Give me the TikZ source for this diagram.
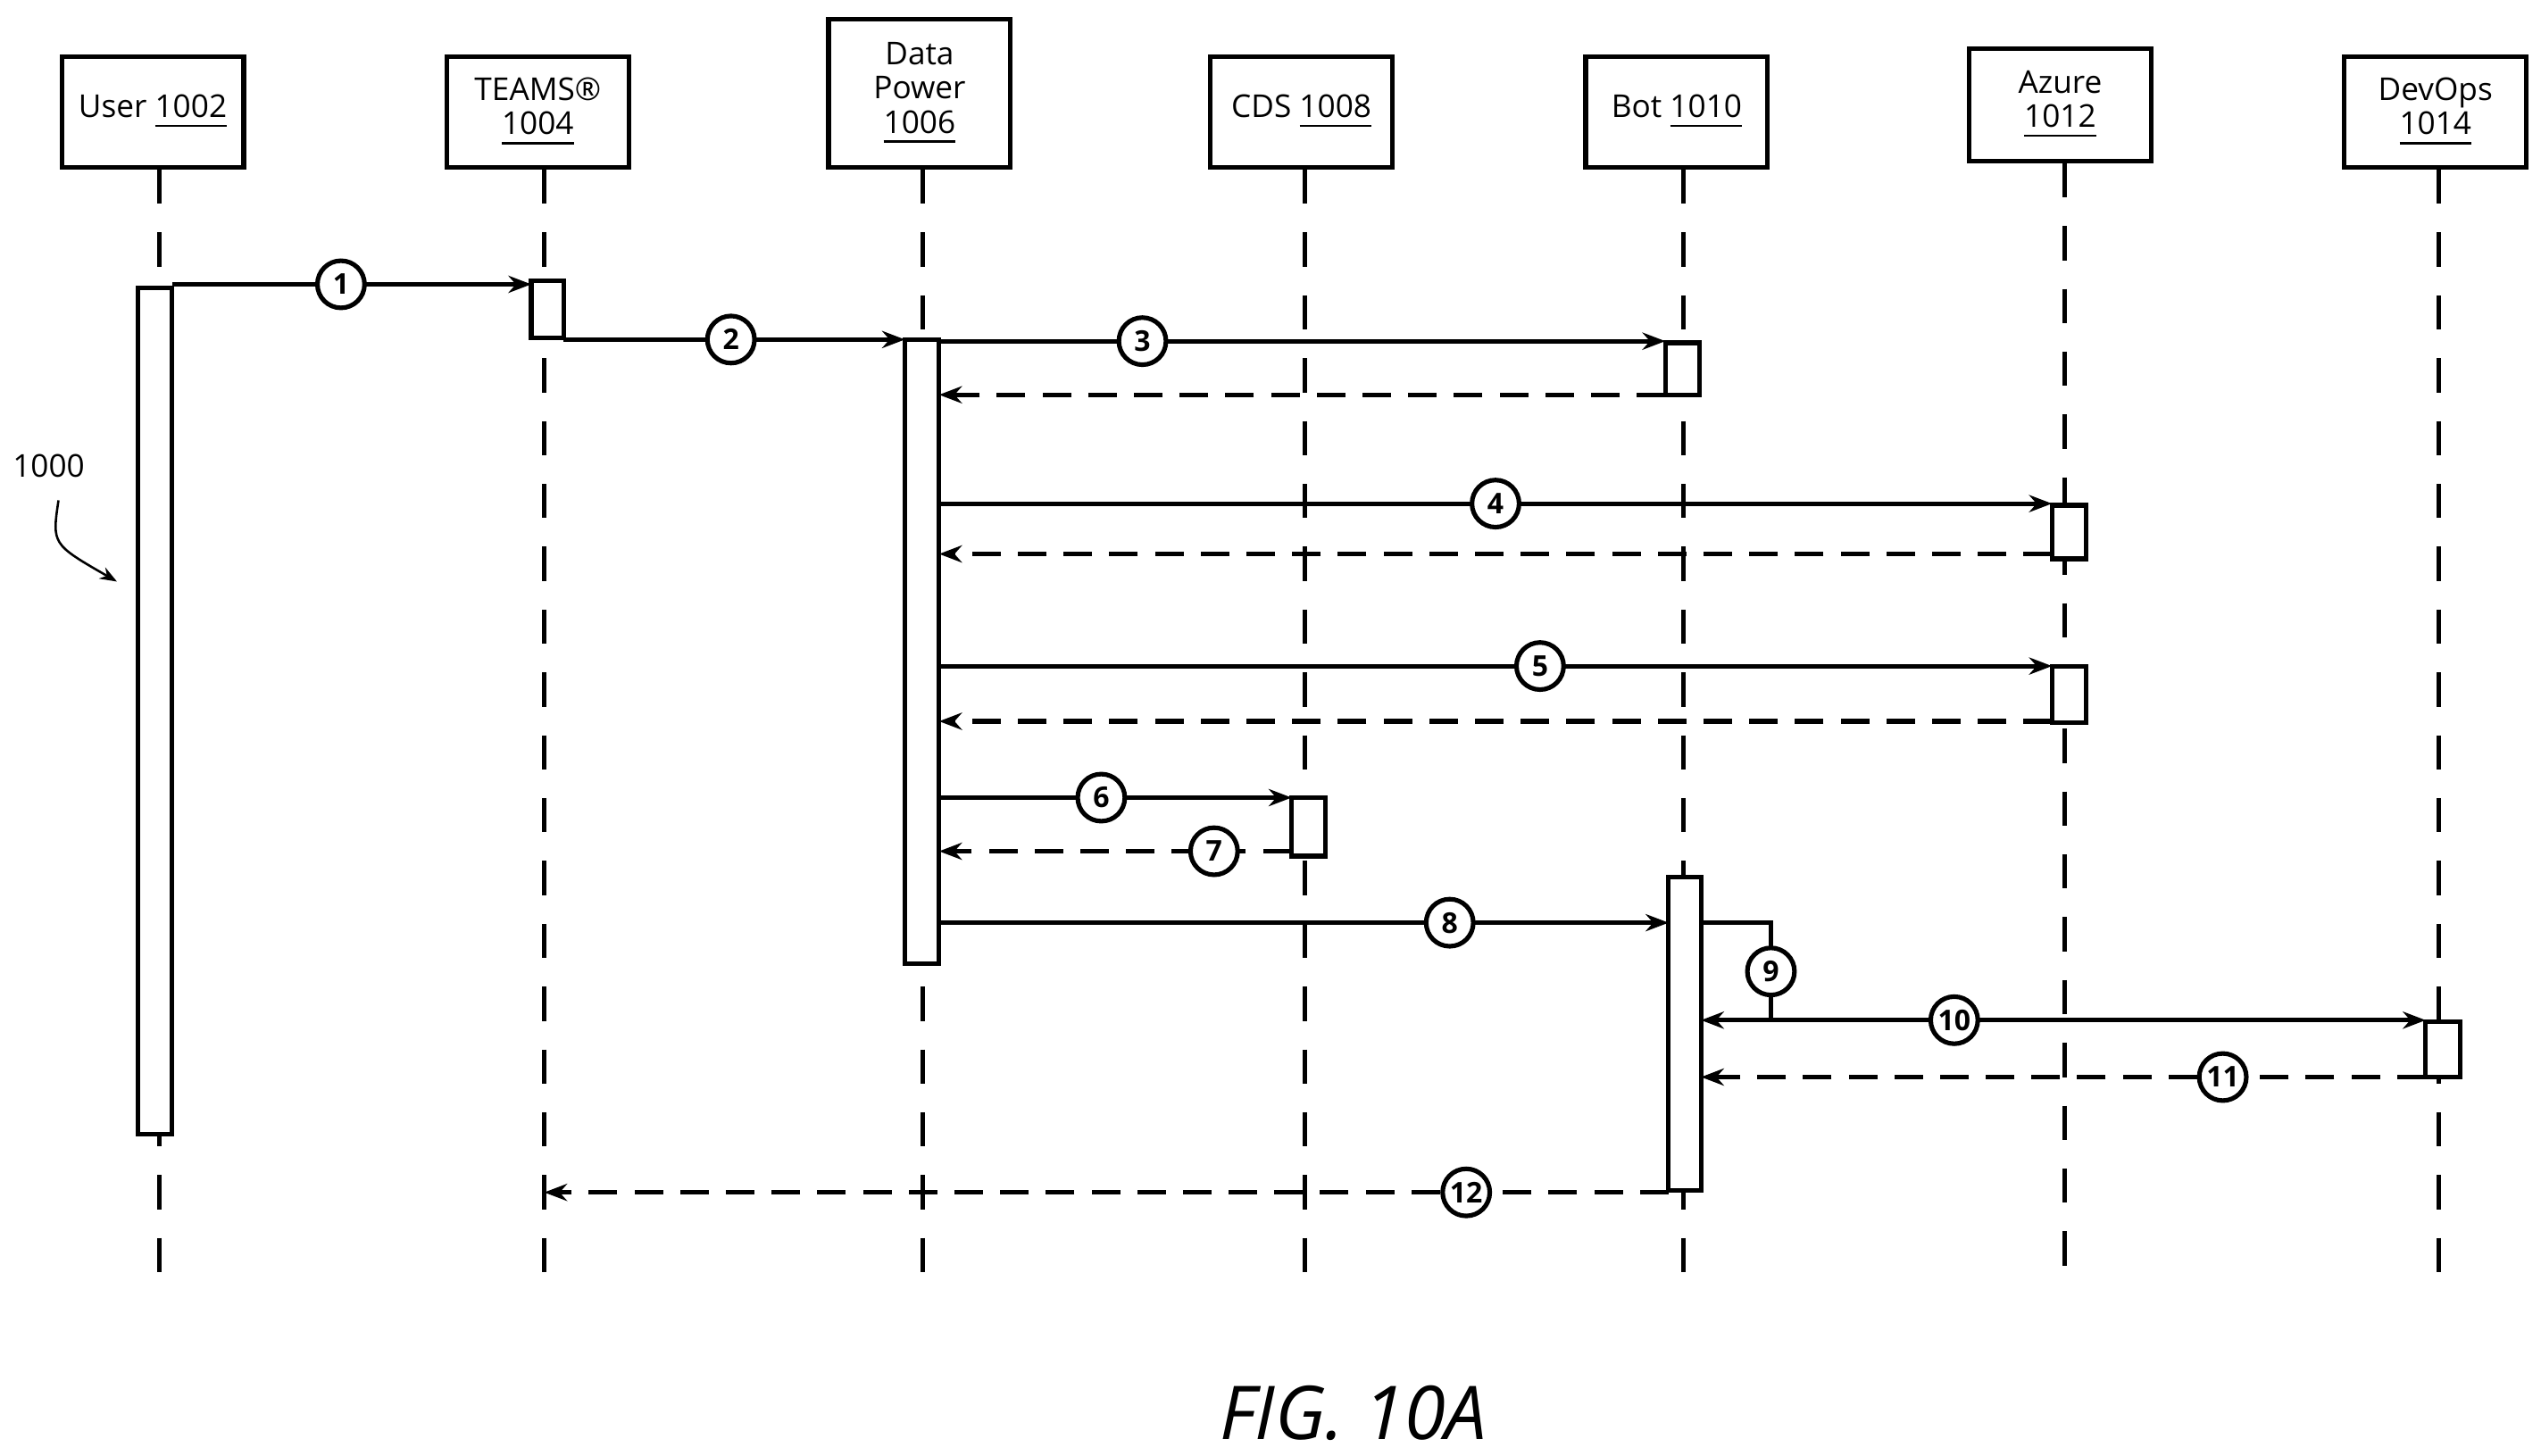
\documentclass[tikz,border=0pt]{standalone}
\usepackage{fontspec}
\setmainfont{Open Sans}
\usetikzlibrary{arrows.meta}
\tikzset{
  actor/.style={draw, thick, minimum width=1.12cm, align=center, font=\fontsize{5.5}{6}\selectfont, inner sep=1pt},
  lifeline/.style={dashed, thick, dash pattern=on 6pt off 5pt},
  bar/.style={draw, thick, fill=white},
  msg/.style={thick, -{Stealth[length=4pt]}},
  ret/.style={thick, dashed, dash pattern=on 5pt off 3pt, -{Stealth[length=4pt]}},
  num/.style={circle, draw, thick, solid, fill=white, inner sep=0pt, minimum size=0.29cm, font=\bfseries\fontsize{5}{5}\selectfont}
}
\begin{document}
\begin{tikzpicture}[x=0.01cm, y=-0.01cm]
    \useasboundingbox (0,0) rectangle (1564,896);

    % actors
    \node[actor, minimum height=0.68cm] (user) at (94,69) {User\ \underline{1002}};
    \node[actor, minimum height=0.68cm] (teams) at (331,69) {TEAMS\textregistered\\\underline{1004}};
    \node[actor, minimum height=0.91cm] (dp) at (566,57.5) {Data\\Power\\\underline{1006}};
    \node[actor, minimum height=0.68cm] (cds) at (801,69) {CDS\ \underline{1008}};
    \node[actor, minimum height=0.68cm] (bot) at (1032,69) {Bot\ \underline{1010}};
    \node[actor, minimum height=0.69cm] (az) at (1268,64.5) {Azure\\\underline{1012}};
    \node[actor, minimum height=0.68cm] (dev) at (1499,69) {DevOps\\\underline{1014}};

    % lifelines
    \foreach \a/\x in {user/98, teams/335, dp/568, cds/803, bot/1036, az/1271, dev/1501} {
        \coordinate (\a end) at (\x,790);
        \draw[lifeline] (\a.south -| \a end) -- (\a end);
    }

    % activation bars
    \draw[bar] (85,177) rectangle (106,698);
    \draw[bar] (327,173) rectangle (347,208);
    \draw[bar] (557,209) rectangle (578,593);
    \draw[bar] (1025,211) rectangle (1046,243);
    \draw[bar] (1263,311) rectangle (1284,344);
    \draw[bar] (1263,410) rectangle (1284,445);
    \draw[bar] (795,491) rectangle (816,527);
    \draw[bar] (1027,540) rectangle (1047,733);
    \draw[bar] (1493,629) rectangle (1514,663);

    % messages
    \draw[msg] (106,175) -- node[num, pos=0.47] (n1) {1} (327,175);
    \draw[msg] (347,209) -- node[num, pos=0.49] (n2) {2} (557,209);
    \draw[msg] (578,210) -- node[num, pos=0.28] (n3) {3} (1025,210);
    \draw[ret] (1025,243) -- (578,243);
    \draw[msg] (578,310) -- node[num, pos=0.5] (n4) {4} (1263,310);
    \draw[ret] (1263,341) -- (578,341);
    \draw[msg] (578,410) -- node[num, pos=0.54] (n5) {5} (1263,410);
    \draw[ret] (1263,444) -- (578,444);
    \draw[msg] (578,491) -- node[num, pos=0.46] (n6) {6} (795,491);
    \draw[ret] (795,524) -- node[num, pos=0.22] (n7) {7} (578,524);
    \draw[msg] (578,568) -- node[num, pos=0.7] (n8) {8} (1027,568);
    \draw[msg] (1047,568) -- (1090,568) -- node[num] (n9) {9} (1090,628) -- (1047,628);
    \draw[msg] (1090,628) -- node[num, pos=0.28] (n10) {10} (1493,628);
    \draw[ret] (1493,663) -- node[num, pos=0.28] (n11) {11} (1047,663);
    \draw[ret] (1027,734) -- node[num, pos=0.18] (n12) {12} (335,734);

    % reference numeral
    \node[font=\fontsize{5.5}{6}\selectfont] (ref) at (30,287) {1000};
    \draw[-{Stealth[length=3pt]}] (36,308) .. controls (32,335) .. (72,358);

    \node[font=\itshape\fontsize{13}{14}\selectfont] (fig) at (833,870) {FIG. 10A};
\end{tikzpicture}
\end{document}
